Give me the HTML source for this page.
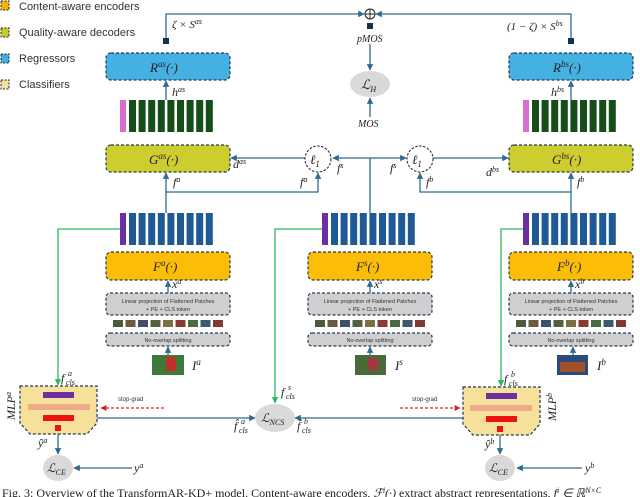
<!DOCTYPE html>
<html><head><meta charset="utf-8"><style>
html,body{margin:0;padding:0;background:#fff;}
svg{display:block;}
.t{font-family:"Liberation Serif",serif;font-style:italic;fill:#222;}
.s{font-family:"Liberation Sans",sans-serif;fill:#333;}
</style></head><body>
<svg width="640" height="497" viewBox="0 0 640 497" xmlns="http://www.w3.org/2000/svg">
<defs>
<marker id="a" viewBox="0 0 10 10" refX="9" refY="5" markerWidth="5" markerHeight="5" orient="auto"><path d="M0,0L10,5L0,10z" fill="#2e6b8f"/></marker>
<marker id="r" viewBox="0 0 10 10" refX="9" refY="5" markerWidth="5" markerHeight="5" orient="auto"><path d="M0,0L10,5L0,10z" fill="#e02020"/></marker>
<marker id="g" viewBox="0 0 10 10" refX="9" refY="5" markerWidth="5" markerHeight="5" orient="auto"><path d="M0,0L10,5L0,10z" fill="#2db85a"/></marker>
<g id="gc"><rect x="0" y="0" width="6" height="32" fill="#d86fd0"/>
<g fill="#154d19"><rect x="9" width="7" height="32"/><rect x="18.6" width="7" height="32"/><rect x="28.2" width="7" height="32"/><rect x="37.8" width="7" height="32"/><rect x="47.4" width="7" height="32"/><rect x="57" width="7" height="32"/><rect x="66.6" width="7" height="32"/><rect x="76.2" width="7" height="32"/><rect x="85.8" width="7" height="32"/></g></g>
<g id="bc"><rect x="0" y="0" width="6" height="32" fill="#6b2fa0"/>
<g fill="#205a96"><rect x="9" width="7" height="32"/><rect x="18.6" width="7" height="32"/><rect x="28.2" width="7" height="32"/><rect x="37.8" width="7" height="32"/><rect x="47.4" width="7" height="32"/><rect x="57" width="7" height="32"/><rect x="66.6" width="7" height="32"/><rect x="76.2" width="7" height="32"/><rect x="85.8" width="7" height="32"/></g></g>
<g id="pt"><rect x="0" width="10" height="7" fill="#4a5a3a"/><rect x="12.5" width="10" height="7" fill="#6a5a40"/><rect x="25" width="10" height="7" fill="#40506a"/><rect x="37.5" width="10" height="7" fill="#556040"/><rect x="50" width="10" height="7" fill="#7a7040"/><rect x="62.5" width="10" height="7" fill="#8a3a30"/><rect x="75" width="10" height="7" fill="#4a6a40"/><rect x="87.5" width="10" height="7" fill="#3a5a70"/><rect x="100" width="10" height="7" fill="#803a30"/></g>
</defs>

<!-- legend -->
<g stroke="#223" stroke-width="1" stroke-dasharray="2,1.5">
<rect x="1" y="1" width="8" height="9" fill="#f7b500"/>
<rect x="1" y="28" width="8" height="9" fill="#c8cc2a"/>
<rect x="1" y="54" width="8" height="9" fill="#3fb0e0"/>
<rect x="1" y="80" width="8" height="9" fill="#f6e09a"/>
</g>
<text class="s" x="19" y="10" font-size="11">Content-aware encoders</text>
<text class="s" x="19" y="36" font-size="11">Quality-aware decoders</text>
<text class="s" x="19" y="62" font-size="11">Regressors</text>
<text class="s" x="19" y="88" font-size="11">Classifiers</text>

<!-- top sum -->
<g fill="none" stroke="#2e6b8f" stroke-width="1.3">
<polyline points="166,40 166,14 364,14" marker-end="url(#a)"/>
<polyline points="571,40 571,14 376,14" marker-end="url(#a)"/>
<line x1="370" y1="44" x2="370" y2="70" marker-end="url(#a)"/>
<line x1="370" y1="117" x2="370" y2="98" marker-end="url(#a)"/>
</g>
<circle cx="370" cy="14" r="5" fill="#fff" stroke="#222"/>
<line x1="365" y1="14" x2="375" y2="14" stroke="#222"/><line x1="370" y1="9" x2="370" y2="19" stroke="#222"/>
<rect x="367" y="23" width="6" height="6" fill="#14324a"/>
<rect x="163" y="38" width="6" height="6" fill="#14324a"/>
<rect x="568" y="38" width="6" height="6" fill="#14324a"/>
<text class="t" x="172" y="28" font-size="11">ζ × S<tspan font-size="8" dy="-4">as</tspan></text>
<text class="t" x="507" y="30" font-size="11">(1 − ζ) × S<tspan font-size="8" dy="-4">bs</tspan></text>
<text class="t" x="357" y="42" font-size="10">pMOS</text>
<ellipse cx="370" cy="84" rx="20" ry="13" fill="#d9d9d9"/>
<text class="t" x="361" y="89" font-size="13">ℒ<tspan font-size="8" dy="3">H</tspan></text>
<text class="t" x="358" y="127" font-size="10">MOS</text>

<!-- boxes -->
<g stroke="#1f3a55" stroke-width="1.2" stroke-dasharray="3,2">
<rect x="106" y="53" width="124" height="27" rx="5" fill="#45b0e2"/>
<rect x="509" y="53" width="124" height="27" rx="5" fill="#45b0e2"/>
<rect x="106" y="145" width="124" height="27" rx="5" fill="#cdcd30"/>
<rect x="509" y="145" width="124" height="27" rx="5" fill="#cdcd30"/>
<rect x="106" y="252" width="124" height="28" rx="5" fill="#fbbd08"/>
<rect x="308" y="252" width="124" height="28" rx="5" fill="#fbbd08"/>
<rect x="509" y="252" width="124" height="28" rx="5" fill="#fbbd08"/>
<rect x="106" y="293" width="124" height="22" rx="4" fill="#cfcfcf"/>
<rect x="308" y="293" width="124" height="22" rx="4" fill="#cfcfcf"/>
<rect x="509" y="293" width="124" height="22" rx="4" fill="#cfcfcf"/>
<rect x="106" y="333" width="124" height="13" rx="4" fill="#cfcfcf"/>
<rect x="308" y="333" width="124" height="13" rx="4" fill="#cfcfcf"/>
<rect x="509" y="333" width="124" height="13" rx="4" fill="#cfcfcf"/>
</g>
<text class="t" x="150" y="72" font-size="13">R<tspan font-size="9" dy="-5">as</tspan><tspan dy="5">(·)</tspan></text>
<text class="t" x="553" y="72" font-size="13">R<tspan font-size="9" dy="-5">bs</tspan><tspan dy="5">(·)</tspan></text>
<text class="t" x="149" y="164" font-size="13">G<tspan font-size="9" dy="-5">as</tspan><tspan dy="5">(·)</tspan></text>
<text class="t" x="552" y="164" font-size="13">G<tspan font-size="9" dy="-5">bs</tspan><tspan dy="5">(·)</tspan></text>
<text class="t" x="153" y="271" font-size="13">F<tspan font-size="9" dy="-5">a</tspan><tspan dy="5">(·)</tspan></text>
<text class="t" x="356" y="271" font-size="13">F<tspan font-size="9" dy="-5">s</tspan><tspan dy="5">(·)</tspan></text>
<text class="t" x="557" y="271" font-size="13">F<tspan font-size="9" dy="-5">b</tspan><tspan dy="5">(·)</tspan></text>
<g class="s" font-size="5.5" text-anchor="middle">
<text x="168" y="303">Linear projection of Flattened Patches</text><text x="168" y="311">+ PE + CLS token</text>
<text x="370" y="303">Linear projection of Flattened Patches</text><text x="370" y="311">+ PE + CLS token</text>
<text x="571" y="303">Linear projection of Flattened Patches</text><text x="571" y="311">+ PE + CLS token</text>
<text x="168" y="342">No-overlap splitting</text><text x="370" y="342">No-overlap splitting</text><text x="571" y="342">No-overlap splitting</text>
</g>
<use href="#pt" x="113" y="320"/><use href="#pt" x="315" y="320"/><use href="#pt" x="516" y="320"/>
<use href="#gc" x="120" y="100"/><use href="#gc" x="523" y="100"/>
<use href="#bc" x="120" y="213"/><use href="#bc" x="322" y="213"/><use href="#bc" x="523" y="213"/>

<!-- images -->
<rect x="152" y="355" width="32" height="20" fill="#3d7a3a"/><rect x="166" y="357" width="10" height="14" fill="#c0302a"/>
<rect x="355" y="355" width="31" height="20" fill="#4a6a3a"/><rect x="368" y="358" width="10" height="12" fill="#a03a40"/>
<rect x="557" y="355" width="31" height="20" fill="#2a4a7a"/><rect x="560" y="362" width="25" height="10" fill="#a0502a"/>
<text class="t" x="192" y="370" font-size="13">I<tspan font-size="9" dy="-5">a</tspan></text>
<text class="t" x="395" y="370" font-size="13">I<tspan font-size="9" dy="-5">s</tspan></text>
<text class="t" x="597" y="370" font-size="13">I<tspan font-size="9" dy="-5">b</tspan></text>

<!-- short arrows -->
<g fill="none" stroke="#2e6b8f" stroke-width="1.3">
<line x1="166" y1="100" x2="166" y2="81" marker-end="url(#a)"/>
<line x1="571" y1="100" x2="571" y2="81" marker-end="url(#a)"/>
<line x1="166" y1="213" x2="166" y2="173" marker-end="url(#a)"/>
<line x1="571" y1="213" x2="571" y2="173" marker-end="url(#a)"/>
<line x1="168" y1="293" x2="168" y2="281" marker-end="url(#a)"/>
<line x1="370" y1="293" x2="370" y2="281" marker-end="url(#a)"/>
<line x1="571" y1="293" x2="571" y2="281" marker-end="url(#a)"/>
<line x1="168" y1="355" x2="168" y2="347" marker-end="url(#a)"/>
<line x1="370" y1="355" x2="370" y2="347" marker-end="url(#a)"/>
<line x1="573" y1="355" x2="573" y2="347" marker-end="url(#a)"/>
<polyline points="166,192 318,192 318,173" marker-end="url(#a)"/>
<polyline points="571,192 420,192 420,173" marker-end="url(#a)"/>
<polyline points="370,213 370,158 333,158" marker-end="url(#a)"/>
<line x1="370" y1="158" x2="406" y2="158" marker-end="url(#a)"/>
<line x1="305" y1="158" x2="231" y2="158" marker-end="url(#a)"/>
<line x1="433" y1="158" x2="508" y2="158" marker-end="url(#a)"/>
<line x1="73" y1="418" x2="255" y2="418" marker-end="url(#a)"/>
<line x1="475" y1="418" x2="295" y2="418" marker-end="url(#a)"/>
<line x1="58" y1="431" x2="58" y2="454" marker-end="url(#a)"/>
<line x1="500" y1="431" x2="500" y2="454" marker-end="url(#a)"/>
<line x1="132" y1="468" x2="74" y2="468" marker-end="url(#a)"/>
<line x1="582" y1="468" x2="517" y2="468" marker-end="url(#a)"/>
</g>
<circle cx="318" cy="159" r="13" fill="#fff" stroke="#222" stroke-dasharray="2.5,1.5"/>
<circle cx="420" cy="159" r="13" fill="#fff" stroke="#222" stroke-dasharray="2.5,1.5"/>
<text class="t" x="310" y="164" font-size="13">ℓ<tspan font-size="9" dy="3">1</tspan></text>
<text class="t" x="412" y="164" font-size="13">ℓ<tspan font-size="9" dy="3">1</tspan></text>

<!-- green lines -->
<g fill="none" stroke="#2db85a" stroke-width="1.3">
<polyline points="120,229 58,229 58,385" marker-end="url(#g)"/>
<polyline points="322,229 275,229 275,403" marker-end="url(#g)"/>
<polyline points="523,229 501,229 501,386" marker-end="url(#g)"/>
</g>

<!-- MLPs -->
<path d="M20,386 H97 V423 L87,434 H30 L20,423 Z" fill="#f6e09a" stroke="#1f3a55" stroke-dasharray="3,2" stroke-width="1.2"/>
<path d="M463,387 H540 V424 L530,435 H473 L463,424 Z" fill="#f6e09a" stroke="#1f3a55" stroke-dasharray="3,2" stroke-width="1.2"/>
<rect x="43" y="392" width="31" height="6" fill="#6b2fa0"/><rect x="28" y="404" width="62" height="6" fill="#eeab8a"/><rect x="43" y="415" width="31" height="6" fill="#ee1111"/><rect x="55" y="425" width="6" height="6" fill="#ee1111"/>
<rect x="486" y="393" width="31" height="6" fill="#6b2fa0"/><rect x="470" y="405" width="62" height="6" fill="#eeab8a"/><rect x="486" y="416" width="31" height="6" fill="#ee1111"/><rect x="497" y="426" width="6" height="6" fill="#ee1111"/>
<line x1="164" y1="408" x2="101" y2="408" stroke="#e02020" stroke-width="1.2" stroke-dasharray="3,2" marker-end="url(#r)"/>
<line x1="400" y1="408" x2="460" y2="408" stroke="#e02020" stroke-width="1.2" stroke-dasharray="3,2" marker-end="url(#r)"/>
<text class="s" x="118" y="401" font-size="6">stop-grad</text>
<text class="s" x="412" y="401" font-size="6">stop-grad</text>
<text class="t" x="0" y="0" font-size="12" transform="translate(15,420) rotate(-90)">MLP<tspan font-size="8" dy="-4">a</tspan></text>
<text class="t" x="0" y="0" font-size="12" transform="translate(556,421) rotate(-90)">MLP<tspan font-size="8" dy="-4">b</tspan></text>

<ellipse cx="275" cy="418" rx="20" ry="14" fill="#d9d9d9"/>
<text class="t" x="261" y="422" font-size="12">ℒ<tspan font-size="8" dy="3">NCS</tspan></text>
<ellipse cx="58" cy="468" rx="15" ry="13" fill="#d9d9d9"/>
<text class="t" x="47" y="472" font-size="12">ℒ<tspan font-size="8" dy="3">CE</tspan></text>
<ellipse cx="500" cy="468" rx="15" ry="13" fill="#d9d9d9"/>
<text class="t" x="489" y="472" font-size="12">ℒ<tspan font-size="8" dy="3">CE</tspan></text>

<!-- labels -->
<g class="t" font-size="12">
<text x="172" y="96">h<tspan font-size="8" dy="-4">as</tspan></text>
<text x="551" y="96">h<tspan font-size="8" dy="-4">bs</tspan></text>
<text x="233" y="168">d<tspan font-size="8" dy="-4">as</tspan></text>
<text x="486" y="176">d<tspan font-size="8" dy="-4">bs</tspan></text>
<text x="173" y="186">f<tspan font-size="8" dy="-4">a</tspan></text>
<text x="300" y="186">f<tspan font-size="8" dy="-4">a</tspan></text>
<text x="337" y="172">f<tspan font-size="8" dy="-4">s</tspan></text>
<text x="390" y="172">f<tspan font-size="8" dy="-4">s</tspan></text>
<text x="426" y="186">f<tspan font-size="8" dy="-4">b</tspan></text>
<text x="577" y="186">f<tspan font-size="8" dy="-4">b</tspan></text>
<text x="172" y="288">x<tspan font-size="8" dy="-4">a</tspan></text>
<text x="374" y="288">x<tspan font-size="8" dy="-4">s</tspan></text>
<text x="575" y="288">x<tspan font-size="8" dy="-4">b</tspan></text>
<text x="38" y="447">ŷ<tspan font-size="8" dy="-4">a</tspan></text>
<text x="485" y="448">ŷ<tspan font-size="8" dy="-4">b</tspan></text>
<text x="134" y="472">y<tspan font-size="8" dy="-4">a</tspan></text>
<text x="585" y="472">y<tspan font-size="8" dy="-4">b</tspan></text>
<text x="61" y="382">f</text><text x="68" y="376" font-size="8">a</text><text x="66" y="385" font-size="8">cls</text>
<text x="281" y="396">f</text><text x="288" y="390" font-size="8">s</text><text x="286" y="399" font-size="8">cls</text>
<text x="504" y="383">f</text><text x="511" y="377" font-size="8">b</text><text x="509" y="386" font-size="8">cls</text>
<text x="234" y="430">f̂</text><text x="241" y="424" font-size="8">a</text><text x="239" y="433" font-size="8">cls</text>
<text x="297" y="430">f̂</text><text x="304" y="424" font-size="8">b</text><text x="302" y="433" font-size="8">cls</text>
</g>
<text x="2" y="497" font-family="Liberation Serif,serif" font-size="12" fill="#222">Fig. 3: Overview of the TransformAR-KD+ model. Content-aware encoders, <tspan font-style="italic">ℱ<tspan font-size="8" dy="-4">i</tspan><tspan dy="4">(·)</tspan></tspan> extract abstract representations, <tspan font-style="italic">f<tspan font-size="8" dy="-4">i</tspan><tspan dy="4"> ∈ ℝ</tspan><tspan font-size="8" dy="-4">N×C</tspan></tspan></text>
</svg>
</body></html>
